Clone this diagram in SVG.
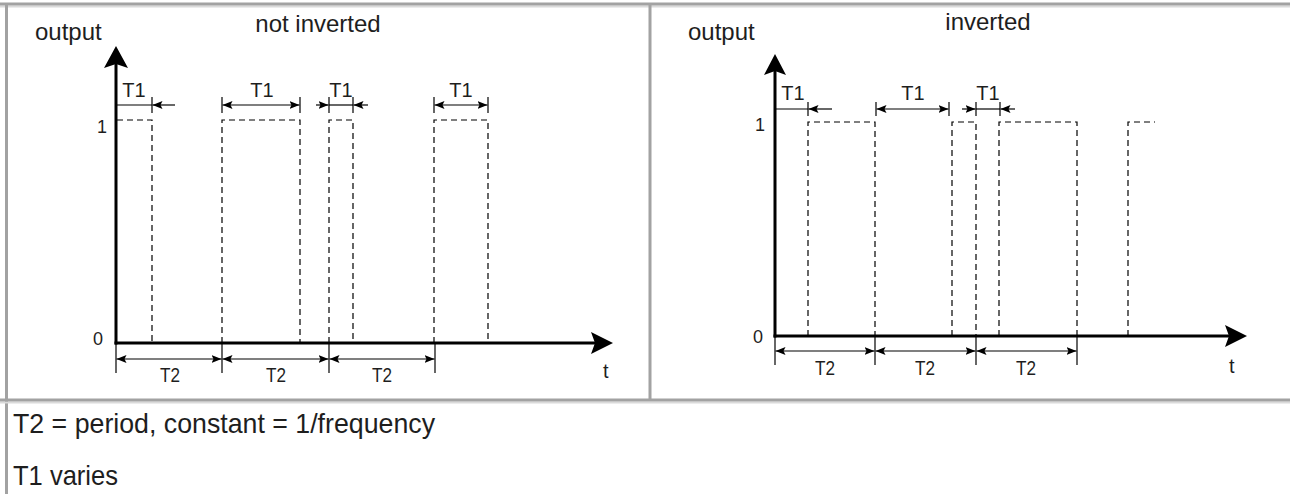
<svg xmlns="http://www.w3.org/2000/svg" width="1290" height="494" viewBox="0 0 1290 494">
<style>
text{font-family:"Liberation Sans",Arial,sans-serif;fill:#1e1e1e}
.big{font-size:24px}
.t1{font-size:20px;text-anchor:middle}
.t2{font-size:21px;text-anchor:middle}
.lbl{font-size:18px}
.tt{font-size:20px}
.note{font-size:28px}
.frame{stroke:#a2a2a2;stroke-width:3;fill:none}
.shade{stroke:#dadada;stroke-width:2;fill:none}
.axis{stroke:#000;stroke-width:3;fill:none}
.dash{stroke:#000;stroke-width:1.2;stroke-dasharray:6 4;fill:none}
.dim{stroke:#000;stroke-width:1.2;fill:none}
.arr{marker-end:url(#ah)}
.dbl{marker-start:url(#ah);marker-end:url(#ah)}
</style>
<defs>
<marker id="ah" markerUnits="userSpaceOnUse" markerWidth="11" markerHeight="9" refX="10" refY="4.5" orient="auto-start-reverse">
<path d="M0,0.5 L10,4.5 L0,8.5 L2,4.5 z" fill="#000"/>
</marker>
</defs>
<rect width="1290" height="494" fill="#fff"/>
<g id="frame">
<line class="shade" x1="0" y1="6.5" x2="1290" y2="6.5"/>
<line class="frame" x1="0" y1="4" x2="1290" y2="4"/>
<line class="frame" x1="6.5" y1="3" x2="6.5" y2="494"/>
<line class="frame" x1="650" y1="4" x2="650" y2="400"/>
<line class="shade" x1="0" y1="402.5" x2="1290" y2="402.5"/>
<line class="frame" x1="0" y1="400" x2="1290" y2="400"/>
</g>
<g id="panel-not-inverted">
<text class="big" x="35" y="40">output</text>
<text class="big" x="318" y="32" text-anchor="middle">not inverted</text>
<text class="lbl" x="97" y="133">1</text>
<text class="lbl" x="93" y="345">0</text>
<text class="tt" x="603" y="378">t</text>
<line class="axis" x1="116" y1="344.5" x2="116" y2="64"/>
<path d="M116,46 L128,68 L116,64 L104,68 z" fill="#000"/>
<line class="axis" x1="114.5" y1="343" x2="596" y2="343"/>
<path d="M613,343 L591,354 L595,343 L591,332 z" fill="#000"/>
<g id="pulses-left">
<path class="dash" d="M117,120 H152 V343"/>
<path class="dash" d="M222,343 V120 H300 V343"/>
<path class="dash" d="M329,343 V120 H353 V343"/>
<path class="dash" d="M434,343 V120 H488 V343"/>
</g>
<g id="t1-left">
<line class="dim" x1="116" y1="105" x2="152" y2="105"/>
<line class="dim" x1="152" y1="97" x2="152" y2="113"/>
<line class="dim arr" x1="175" y1="105" x2="152.5" y2="105"/>
<line class="dim" x1="222" y1="97" x2="222" y2="113"/>
<line class="dim" x1="300" y1="97" x2="300" y2="113"/>
<line class="dim dbl" x1="222.5" y1="105" x2="299.5" y2="105"/>
<line class="dim arr" x1="316" y1="105" x2="328.5" y2="105"/>
<line class="dim" x1="329" y1="97" x2="329" y2="113"/>
<line class="dim" x1="329" y1="105" x2="353" y2="105"/>
<line class="dim" x1="353" y1="97" x2="353" y2="113"/>
<line class="dim arr" x1="368" y1="105" x2="353.5" y2="105"/>
<line class="dim" x1="434" y1="97" x2="434" y2="113"/>
<line class="dim" x1="488" y1="97" x2="488" y2="113"/>
<line class="dim dbl" x1="434.5" y1="105" x2="487.5" y2="105"/>
<text class="t1" x="134" y="97">T1</text>
<text class="t1" x="262" y="97">T1</text>
<text class="t1" x="341" y="97">T1</text>
<text class="t1" x="461" y="97">T1</text>
</g>
<g id="t2-left">
<line class="dim" x1="116" y1="343" x2="116" y2="373"/>
<line class="dim" x1="222" y1="343" x2="222" y2="373"/>
<line class="dim" x1="329" y1="343" x2="329" y2="373"/>
<line class="dim" x1="435" y1="343" x2="435" y2="373"/>
<line class="dim dbl" x1="116.5" y1="359" x2="221.5" y2="359"/>
<line class="dim dbl" x1="222.5" y1="359" x2="328.5" y2="359"/>
<line class="dim dbl" x1="329.5" y1="359" x2="434.5" y2="359"/>
<text class="t2" x="170" y="382" textLength="20" lengthAdjust="spacingAndGlyphs">T2</text>
<text class="t2" x="276" y="382" textLength="20" lengthAdjust="spacingAndGlyphs">T2</text>
<text class="t2" x="382" y="382" textLength="20" lengthAdjust="spacingAndGlyphs">T2</text>
</g>
</g>
<g id="panel-inverted">
<text class="big" x="688" y="40">output</text>
<text class="big" x="988" y="30" text-anchor="middle">inverted</text>
<text class="lbl" x="755" y="131">1</text>
<text class="lbl" x="753" y="343">0</text>
<text class="tt" x="1229" y="373">t</text>
<line class="axis" x1="775" y1="337.5" x2="775" y2="70"/>
<path d="M775,54 L786,75 L775,71 L764,75 z" fill="#000"/>
<line class="axis" x1="773.5" y1="336" x2="1230" y2="336"/>
<path d="M1247,336 L1225,347 L1229,336 L1225,325 z" fill="#000"/>
<g id="pulses-right">
<path class="dash" d="M808,336 V122 H875 V336"/>
<path class="dash" d="M952,336 V122 H976 V336"/>
<path class="dash" d="M999,336 V122 H1077 V336"/>
<path class="dash" d="M1128,336 V122 H1155"/>
</g>
<g id="t1-right">
<line class="dim" x1="775" y1="109" x2="808" y2="109"/>
<line class="dim" x1="808" y1="102" x2="808" y2="116"/>
<line class="dim arr" x1="832" y1="109" x2="808.5" y2="109"/>
<line class="dim" x1="876" y1="102" x2="876" y2="116"/>
<line class="dim" x1="949" y1="102" x2="949" y2="116"/>
<line class="dim dbl" x1="876.5" y1="109" x2="948.5" y2="109"/>
<line class="dim arr" x1="962" y1="109" x2="975.5" y2="109"/>
<line class="dim" x1="976" y1="102" x2="976" y2="116"/>
<line class="dim" x1="976" y1="109" x2="1000" y2="109"/>
<line class="dim" x1="1000" y1="102" x2="1000" y2="116"/>
<line class="dim arr" x1="1015" y1="109" x2="1000.5" y2="109"/>
<text class="t1" x="793" y="100">T1</text>
<text class="t1" x="913" y="100">T1</text>
<text class="t1" x="988" y="100">T1</text>
</g>
<g id="t2-right">
<line class="dim" x1="775" y1="336" x2="775" y2="365"/>
<line class="dim" x1="875" y1="336" x2="875" y2="365"/>
<line class="dim" x1="976" y1="336" x2="976" y2="365"/>
<line class="dim" x1="1077" y1="336" x2="1077" y2="365"/>
<line class="dim dbl" x1="775.5" y1="351" x2="874.5" y2="351"/>
<line class="dim dbl" x1="875.5" y1="351" x2="975.5" y2="351"/>
<line class="dim dbl" x1="976.5" y1="351" x2="1076.5" y2="351"/>
<text class="t2" x="825" y="375" textLength="20" lengthAdjust="spacingAndGlyphs">T2</text>
<text class="t2" x="925" y="375" textLength="20" lengthAdjust="spacingAndGlyphs">T2</text>
<text class="t2" x="1026" y="375" textLength="20" lengthAdjust="spacingAndGlyphs">T2</text>
</g>
</g>
<g id="notes">
<text class="note" x="13" y="433" textLength="422" lengthAdjust="spacingAndGlyphs">T2 = period, constant = 1/frequency</text>
<text class="note" x="13" y="485" textLength="105" lengthAdjust="spacingAndGlyphs">T1 varies</text>
</g>
</svg>
